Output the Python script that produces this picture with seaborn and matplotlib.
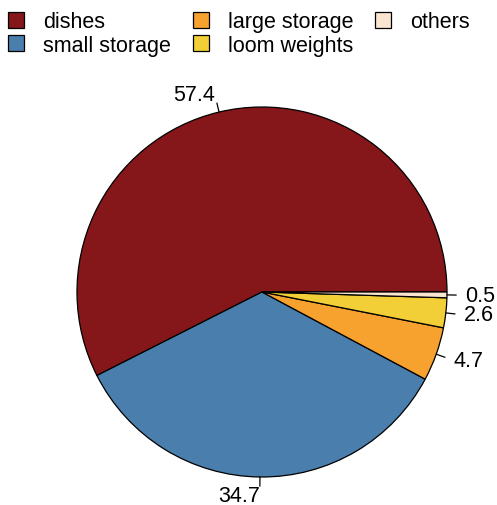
import numpy as np
import matplotlib
matplotlib.use("Agg")
import matplotlib.pyplot as plt
from matplotlib.patches import Patch
import seaborn as sns

categories = ["dishes", "small storage", "large storage", "loom weights", "others"]
shares = [57.4, 34.7, 4.7, 2.6, 0.5]
colors = ["#85161a", "#4a7fad", "#f7a12f", "#f2cf37", "#fae5d0"]

sns.set_style("white")
plt.rcParams["font.family"] = ["Liberation Sans", "DejaVu Sans"]
plt.rcParams["text.color"] = "black"

fig = plt.figure(figsize=(4.97, 5.06), dpi=100)
half = 203.5
ax = fig.add_axes([(262 - half) / 497, (213 - half) / 506, 2 * half / 497, 2 * half / 506])

wedges, _ = ax.pie(
    shares,
    colors=colors,
    startangle=0,
    counterclock=True,
    radius=1.0,
    wedgeprops=dict(edgecolor="black", linewidth=0.9),
)

# R-style outside labels with short tick marks
for w, val in zip(wedges, shares):
    ang = np.deg2rad((w.theta1 + w.theta2) / 2)
    c, s = np.cos(ang), np.sin(ang)
    ax.plot([c, 1.05 * c], [s, 1.05 * s], color="black", lw=0.9, clip_on=False)
    ax.text(1.1 * c, 1.1 * s, f"{val:g}", fontsize=15.5, color="black",
            ha="left" if c >= 0 else "right", va="center")

ax.set_xlim(-1.1, 1.1)
ax.set_ylim(-1.1, 1.1)
ax.set_aspect("equal")
ax.axis("off")

handles = [Patch(facecolor=col, edgecolor="black", linewidth=0.9) for col in colors]
fig.legend(handles, categories, loc="upper left", bbox_to_anchor=(-0.002, 0.993),
           ncol=3, frameon=False, fontsize=15.5, handlelength=0.75, handleheight=0.75,
           handletextpad=0.9, columnspacing=1.0, labelspacing=0.12, borderaxespad=0.0)

fig.savefig("out.png", dpi=100)
